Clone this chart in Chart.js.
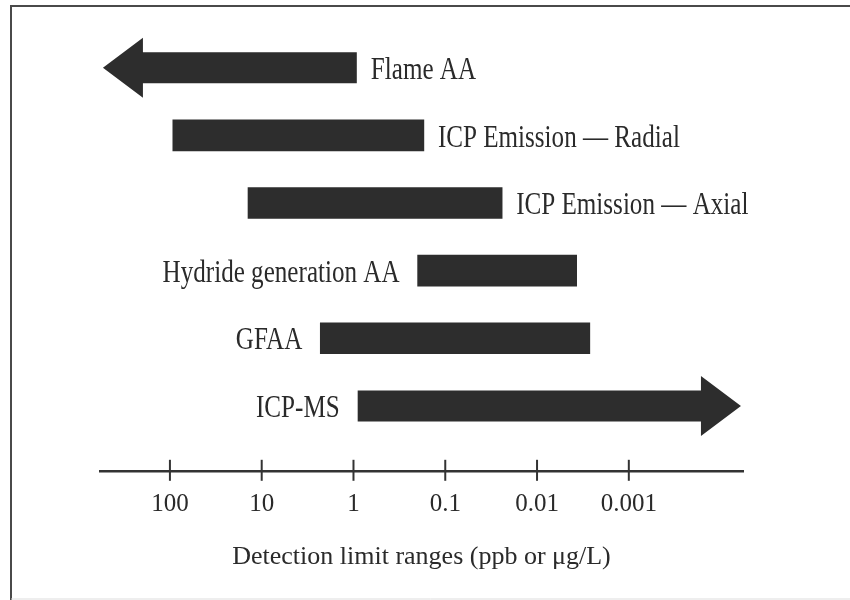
<!DOCTYPE html>
<html lang="en">
<head>
<meta charset="UTF-8">
<title>Detection limit ranges</title>
<script src="https://cdn.jsdelivr.net/npm/chart.js"></script>
<style>
  html, body { margin: 0; padding: 0; background: #fff; }
  #wrap { width: 850px; height: 600px; }
</style>
</head>
<body>
<div id="wrap"><canvas id="dl"></canvas></div>
<script>
  // detection limit ranges in ppb
  const techniques = ['Flame AA', 'ICP Emission — Radial', 'ICP Emission — Axial', 'Hydride generation AA', 'GFAA', 'ICP-MS'];
  const lowLimit = [0.92, 0.171, 0.024, 0.0037, 0.00266, 0.00006];
  const highLimit = [537, 93, 14.1, 0.20, 2.3, 0.9];
  const arrowDir = ['left', null, null, null, null, 'right'];
  const labelSide = ['right', 'right', 'right', 'left', 'left', 'left'];
  const tickValues = [100, 10, 1, 0.1, 0.01, 0.001];
  const tickLabels = ['100', '10', '1', '0.1', '0.01', '0.001'];

  const barColor = '#2d2d2d';
  const inkColor = '#2a2a2a';

  const rows = techniques.map((t, i) => ({ x: [lowLimit[i], highLimit[i]], y: i }));

  // squeezed serif text, like the scanned figure
  function squeezeText(ctx, text, x, y, align) {
    ctx.save();
    ctx.translate(x, y);
    ctx.scale(0.81, 1);
    ctx.textAlign = align;
    ctx.textBaseline = 'middle';
    ctx.fillText(text, 0, 0);
    ctx.restore();
  }

  const figurePlugin = {
    id: 'figure',
    beforeDraw(chart) {
      const ctx = chart.ctx;
      ctx.save();
      ctx.strokeStyle = '#4a4a4a';
      ctx.lineWidth = 2;
      ctx.beginPath();
      ctx.moveTo(11, 600);
      ctx.lineTo(11, 6);
      ctx.lineTo(850, 6);
      ctx.stroke();
      ctx.strokeStyle = '#dddddd';
      ctx.lineWidth = 1;
      ctx.beginPath();
      ctx.moveTo(11, 599);
      ctx.lineTo(850, 599);
      ctx.stroke();
      ctx.restore();
    },
    afterDatasetsDraw(chart) {
      const ctx = chart.ctx;
      const meta = chart.getDatasetMeta(0);
      ctx.save();
      meta.data.forEach((bar, i) => {
        const left = Math.min(bar.x, bar.base);
        const right = Math.max(bar.x, bar.base);
        const half = bar.height / 2;
        const head = 40, headHalf = 30;
        if (arrowDir[i]) {
          ctx.fillStyle = barColor;
          ctx.beginPath();
          if (arrowDir[i] === 'left') {
            ctx.moveTo(left, bar.y);
            ctx.lineTo(left + head, bar.y - headHalf);
            ctx.lineTo(left + head, bar.y - half);
            ctx.lineTo(right, bar.y - half);
            ctx.lineTo(right, bar.y + half);
            ctx.lineTo(left + head, bar.y + half);
            ctx.lineTo(left + head, bar.y + headHalf);
          } else {
            ctx.moveTo(right, bar.y);
            ctx.lineTo(right - head, bar.y - headHalf);
            ctx.lineTo(right - head, bar.y - half);
            ctx.lineTo(left, bar.y - half);
            ctx.lineTo(left, bar.y + half);
            ctx.lineTo(right - head, bar.y + half);
            ctx.lineTo(right - head, bar.y + headHalf);
          }
          ctx.closePath();
          ctx.fill();
        }
        ctx.fillStyle = inkColor;
        ctx.font = '31px "Liberation Serif", "DejaVu Serif", serif';
        if (labelSide[i] === 'right') {
          squeezeText(ctx, techniques[i], right + 14, bar.y + 3, 'left');
        } else {
          squeezeText(ctx, techniques[i], left - 18, bar.y + 3, 'right');
        }
      });

      // tick marks crossing the axis line
      const xs = chart.scales.x;
      ctx.strokeStyle = '#333';
      ctx.lineWidth = 2;
      tickValues.forEach(v => {
        const px = xs.getPixelForValue(v);
        ctx.beginPath();
        ctx.moveTo(px, xs.top - 11);
        ctx.lineTo(px, xs.top + 10);
        ctx.stroke();
      });
      ctx.restore();
    }
  };

  new Chart(document.getElementById('dl'), {
    type: 'bar',
    data: {
      datasets: [{
        data: rows,
        backgroundColor: ctx => arrowDir[ctx.dataIndex] ? 'rgba(0,0,0,0)' : barColor,
        borderWidth: 0,
        barThickness: 31
      }]
    },
    options: {
      indexAxis: 'y',
      responsive: true,
      maintainAspectRatio: false,
      animation: false,
      layout: { padding: { left: 100, right: 107, top: 34, bottom: 27 } },
      plugins: { legend: { display: false }, tooltip: { enabled: false } },
      scales: {
        y: { type: 'linear', min: -0.5, max: 5.96, reverse: true, offset: false, display: false },
        x: {
          type: 'logarithmic',
          min: 5.7e-5,
          max: 578,
          reverse: true,
          bounds: 'data',
          afterBuildTicks: axis => { axis.ticks = tickValues.map(v => ({ value: v })); },
          grid: { display: false },
          border: { display: true, color: '#333', width: 2.5 },
          ticks: {
            autoSkip: false,
            maxRotation: 0,
            padding: 11,
            color: inkColor,
            font: { family: '"Liberation Serif", serif', size: 25 },
            callback: v => {
              const k = tickValues.findIndex(t => Math.abs(Math.log10(t) - Math.log10(v)) < 1e-6);
              return k >= 0 ? tickLabels[k] : '';
            }
          },
          title: {
            display: true,
            text: 'Detection limit ranges (ppb or μg/L)',
            color: inkColor,
            font: { family: '"Liberation Serif", serif', size: 26 },
            padding: { top: 11, bottom: 0 }
          }
        }
      }
    },
    plugins: [figurePlugin]
  });
</script>
</body>
</html>
